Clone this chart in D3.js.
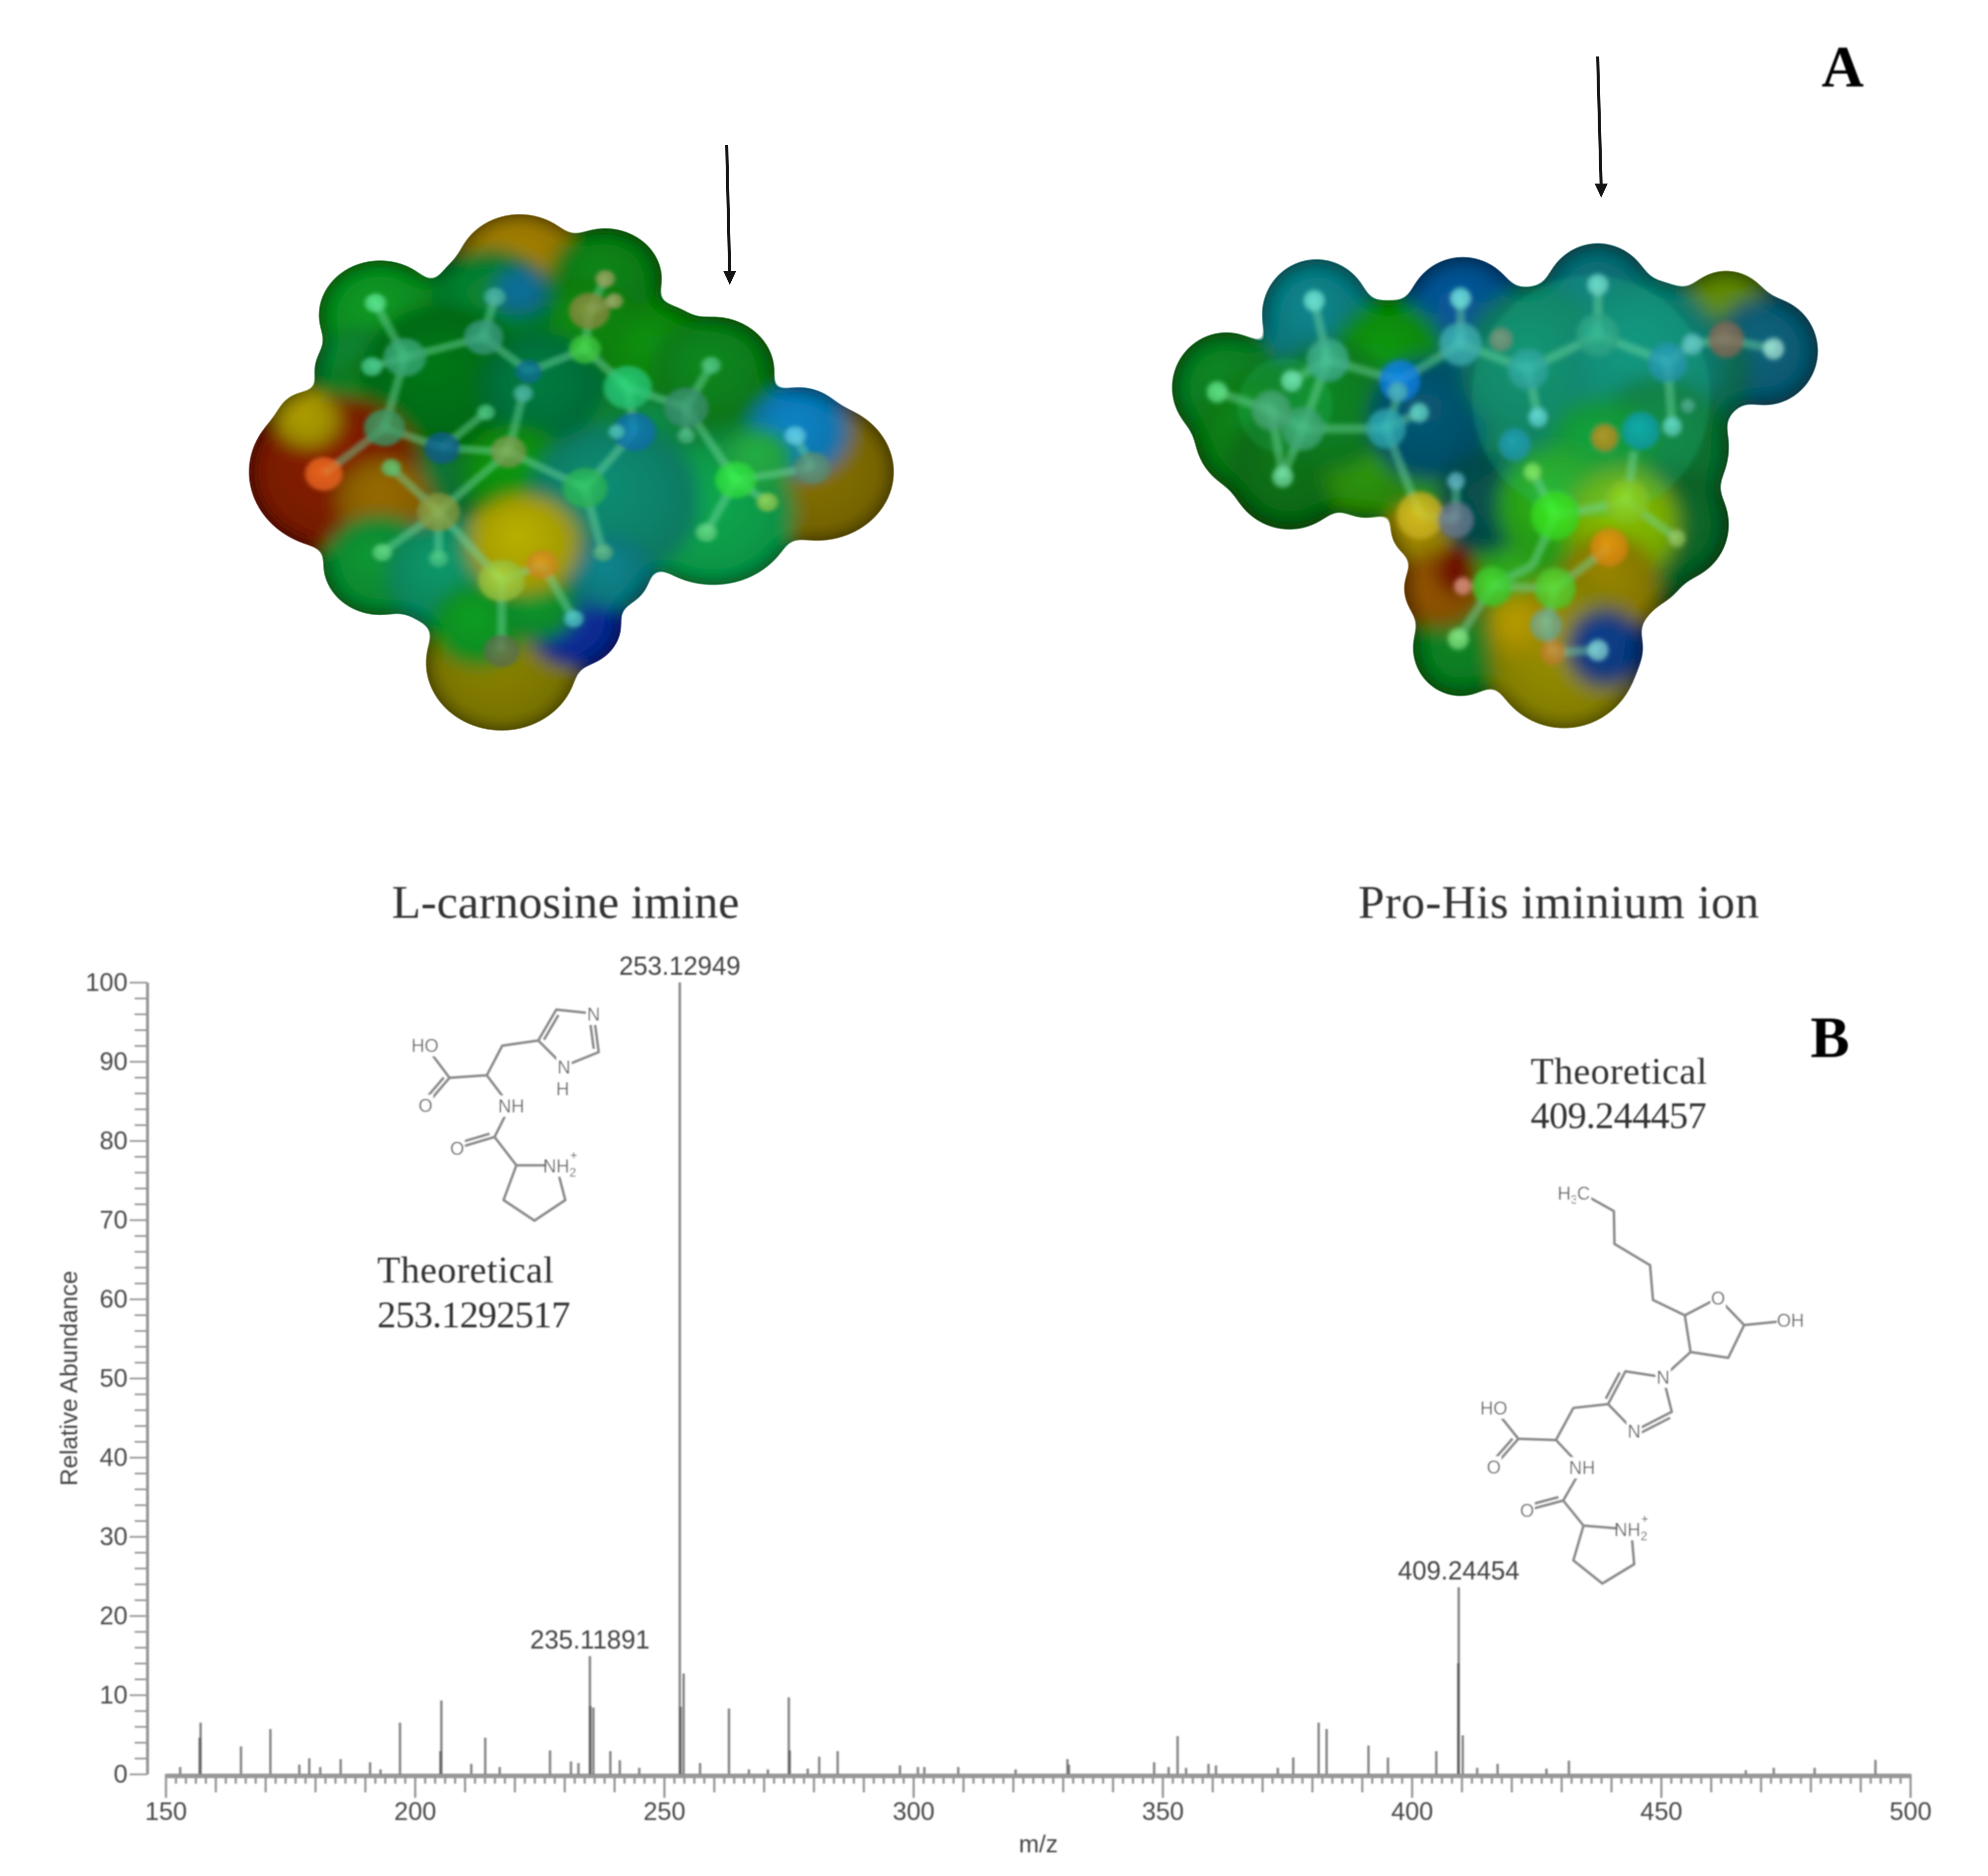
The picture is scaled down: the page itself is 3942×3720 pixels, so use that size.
<!DOCTYPE html>
<html lang="en">
<head>
  <meta charset="UTF-8" />
  <title>L-carnosine imine and Pro-His iminium ion</title>
  <script src="https://d3js.org/d3.v7.min.js"></script>
  <style>
    body { margin: 0; padding: 0; background: #fff; }
    svg { display: block; }
    text { font-family: 'Liberation Sans', Arial, sans-serif; fill: #444; }
    .serif { font-family: 'Liberation Serif', 'Times New Roman', serif; fill: #333; }
    .panel { font-family: 'Liberation Serif', 'Times New Roman', serif; font-weight: bold; fill: #000; }
    .axis path, .axis line { stroke: #989898; fill: none; }
    .axis text { font-size: 50px; fill: #484848; }
    .bond { stroke: #8a8a8a; stroke-width: 5; fill: none; stroke-linejoin: round; }
    .atomlabel { font-size: 36px; fill: #666; text-anchor: middle; }
  </style>
</head>
<body>
  <div id="chart"></div>

  <script>
    // spectrum
    const stickMz = [152.9, 156.8, 157, 165.1, 171, 176.8, 178.8, 181, 185.1, 191, 193.1, 197, 205.1, 205.3,
      211.3, 214.1, 217, 227.1, 231.3, 232.8, 235.1, 235.2, 235.8, 239.2, 241.1, 245, 253.13, 253.3, 253.9, 257.2,
      263, 267, 270.8, 275, 275.2, 278.8, 281.1, 284.8, 297.3, 300.9, 302.2, 309, 320.5, 330.9, 331.2,
      348.3, 351.2, 353, 354.7, 359.2, 360.7, 373.1, 376.2, 381.3, 382.9, 391.3, 395.2, 404.9,
      409.3, 409.4, 410.2, 413.1, 417.2, 427, 431.5, 467, 472.6, 480.8, 493];
    const stickAbundance = [0.9, 4.6, 6.5, 3.5, 5.7, 1.2, 2.0, 0.9, 1.9, 1.5, 0.6, 6.5, 2.9, 9.3,
      1.3, 4.6, 0.9, 3.0, 1.6, 1.4, 14.9, 8.6, 8.4, 2.9, 1.75, 0.8, 100, 8.5, 12.7, 1.4,
      8.3, 0.6, 0.6, 9.7, 3.0, 0.7, 2.2, 2.9, 1.1, 0.9, 0.9, 0.9, 0.6, 1.9, 1.2,
      1.5, 0.9, 4.8, 0.8, 1.3, 1.1, 0.8, 2.1, 6.5, 5.7, 3.6, 2.1, 2.9,
      14.0, 23.6, 4.9, 0.8, 1.3, 0.7, 1.7, 0.5, 0.8, 0.8, 1.8];
    const labelledMz = [235.1, 253.13, 409.4];
    const labelledAbundance = [14.9, 100, 23.6];
    const labelledText = ["235.11891", "253.12949", "409.24454"];

    const xTicks = d3.range(150, 501, 2);
    const yTicks = d3.range(0, 101, 2);

    const width = 3942, height = 3720;
    const svg = d3.select("#chart").append("svg")
      .attr("width", width)
      .attr("height", height);
    svg.append("rect").attr("width", width).attr("height", height).attr("fill", "#fff");

    const defs = svg.append("defs");

    // surface: blobs melt together, edge of the silhouette gets shaded
    const goo = defs.append("filter").attr("id", "goo")
      .attr("x", "-15%").attr("y", "-15%").attr("width", "130%").attr("height", "130%");
    goo.append("feGaussianBlur").attr("in", "SourceGraphic").attr("stdDeviation", 20).attr("result", "b");
    goo.append("feComponentTransfer").attr("in", "b").attr("result", "shape")
      .append("feFuncA").attr("type", "linear").attr("slope", 14).attr("intercept", -6);
    goo.append("feGaussianBlur").attr("in", "shape").attr("stdDeviation", 26).attr("result", "ga");
    goo.append("feColorMatrix").attr("in", "ga").attr("type", "matrix")
      .attr("values", "0 0 0 0 0  0 0 0 0 0  0 0 0 0 0  0 0 0 -1.2 1.12").attr("result", "inv");
    goo.append("feComposite").attr("in", "inv").attr("in2", "shape").attr("operator", "in").attr("result", "edge");
    const gooMerge = goo.append("feMerge");
    gooMerge.append("feMergeNode").attr("in", "shape");
    gooMerge.append("feMergeNode").attr("in", "edge");

    const blurSmall = defs.append("filter").attr("id", "softer")
      .attr("x", "-10%").attr("y", "-10%").attr("width", "120%").attr("height", "120%");
    blurSmall.append("feGaussianBlur").attr("stdDeviation", 5);
    const blurText = defs.append("filter").attr("id", "textblur")
      .attr("x", "-5%").attr("y", "-5%").attr("width", "110%").attr("height", "110%");
    blurText.append("feGaussianBlur").attr("stdDeviation", 1.4);

    // spectrum axes
    const x = d3.scaleLinear().domain([150, 500]).range([328.6, 3788]);
    const y = d3.scaleLinear().domain([0, 100]).range([3518, 1948]);

    const spectrum = svg.append("g").attr("filter", "url(#textblur)");

    const xAxis = spectrum.append("g").attr("class", "axis")
      .attr("transform", `translate(0,${y(0)})`)
      .call(d3.axisBottom(x).tickValues(xTicks).tickSizeOuter(0)
        .tickFormat(d => d % 50 === 0 ? d : ""));
    xAxis.select("path").attr("stroke-width", 9).attr("stroke", "#a4a4a4").attr("transform", "translate(0,3)");
    xAxis.selectAll(".tick line")
      .attr("stroke-width", 4.5)
      .attr("stroke", d => d % 10 === 0 ? "#969696" : "#a8a8a8")
      .attr("y2", d => d % 50 === 0 ? 47 : d % 10 === 0 ? 36 : 19);
    xAxis.selectAll(".tick text").attr("y", 55).attr("dy", "0.71em");

    const yAxis = spectrum.append("g").attr("class", "axis")
      .attr("transform", `translate(292,0)`)
      .call(d3.axisLeft(y).tickValues(yTicks).tickSizeOuter(0)
        .tickFormat(d => d % 10 === 0 ? d : ""));
    yAxis.select("path").attr("stroke-width", 6);
    yAxis.selectAll(".tick line")
      .attr("stroke-width", 3.5)
      .attr("x2", d => d % 10 === 0 ? -35 : -25);
    yAxis.selectAll(".tick text").attr("x", -39);

    spectrum.append("text")
      .attr("x", 2059).attr("y", 3673)
      .attr("text-anchor", "middle")
      .attr("font-size", 48)
      .text("m/z");
    spectrum.append("text")
      .attr("transform", "translate(153,2733) rotate(-90)")
      .attr("text-anchor", "middle")
      .attr("font-size", 48)
      .text("Relative Abundance");

    // sticks overlap and go darker, as in the spectrum
    spectrum.append("g").selectAll("line")
      .data(stickMz)
      .enter().append("line")
      .attr("x1", d => x(d)).attr("x2", d => x(d))
      .attr("y1", y(0))
      .attr("y2", (d, i) => y(stickAbundance[i]))
      .attr("stroke", "#444")
      .attr("stroke-opacity", 0.62)
      .attr("stroke-width", 5);

    spectrum.append("g").selectAll("text")
      .data(labelledText)
      .enter().append("text")
      .attr("x", (d, i) => x(labelledMz[i]))
      .attr("y", (d, i) => y(labelledAbundance[i]) - 15)
      .attr("text-anchor", "middle")
      .attr("font-size", 51)
      .text(d => d);

    // titles and panel letters
    const titles = svg.append("g").attr("filter", "url(#textblur)");
    titles.append("text").attr("class", "serif")
      .attr("x", 777).attr("y", 1820).attr("font-size", 94)
      .attr("textLength", 689).text("L-carnosine imine");
    titles.append("text").attr("class", "serif")
      .attr("x", 2693).attr("y", 1820).attr("font-size", 94)
      .attr("textLength", 795).text("Pro-His iminium ion");
    titles.append("text").attr("class", "panel")
      .attr("x", 3612).attr("y", 171).attr("font-size", 116).text("A");
    titles.append("text").attr("class", "panel")
      .attr("x", 3590).attr("y", 2096).attr("font-size", 116).text("B");

    [[748, 2543, "Theoretical"], [748, 2632, "253.1292517"],
     [3035, 2149, "Theoretical"], [3035, 2237, "409.244457"]].forEach(t => {
      titles.append("text").attr("class", "serif")
        .attr("x", t[0]).attr("y", t[1]).attr("font-size", 75)
        .attr("textLength", t[2] === "Theoretical" ? 350 : t[2].length > 10 ? 383 : 349)
        .text(t[2]);
    });

    // arrows over the molecules
    function arrow(x1, y1, x2, y2) {
      svg.append("line")
        .attr("x1", x1).attr("y1", y1).attr("x2", x2).attr("y2", y2 - 20)
        .attr("stroke", "#141414").attr("stroke-width", 6);
      svg.append("path")
        .attr("d", d3.line()([[x2 - 13, y2 - 28], [x2 + 13, y2 - 28], [x2, y2]]))
        .attr("fill", "#141414");
    }
    arrow(1441, 288, 1447, 565);
    arrow(3168, 112, 3175, 392);

    // 2D structures, drawn in their own pixel frames
    function structure(ox, oy, sx, sy, chains, doubles, labels) {
      const g = svg.append("g").attr("filter", "url(#textblur)");
      const px = d => ox + d[0] / sx, py = d => oy + d[1] / sy;
      const line = d3.line().x(px).y(py);
      chains.forEach(c => g.append("path").attr("class", "bond").attr("d", line(c)));
      doubles.forEach(c => {
        const dx = px(c[1]) - px(c[0]), dy = py(c[1]) - py(c[0]);
        const len = Math.hypot(dx, dy), nx = -dy / len * 9, ny = dx / len * 9;
        g.append("line").attr("class", "bond")
          .attr("x1", px(c[0]) + nx + dx * 0.1).attr("y1", py(c[0]) + ny + dy * 0.1)
          .attr("x2", px(c[1]) + nx - dx * 0.1).attr("y2", py(c[1]) + ny - dy * 0.1);
      });
      labels.forEach(l => {
        const p = [l[0], l[1]];
        // white knockout so the bond ends stop short of the label
        const w = l[2].length * 24 + 6;
        g.append("rect").attr("x", px(p) - w / 2).attr("y", py(p) - 21)
          .attr("width", w).attr("height", 42).attr("fill", "#fff");
        const t = g.append("text").attr("class", "atomlabel")
          .attr("x", px(p)).attr("y", py(p) + 13);
        t.text(l[2]);
        if (l[3]) {
          t.append("tspan").attr("font-size", 24).attr("dy", 8).text(l[3]);
        }
        if (l[4]) {
          t.append("tspan").attr("font-size", 24).attr("dy", -34).attr("dx", -12).text(l[4]);
        }
      });
    }

    structure(700, 1900, 1.96, 1.96,
      [[[285, 345], [375, 465], [520, 455], [580, 340], [720, 320], [790, 200], [935, 215], [955, 365], [820, 420], [720, 320]],
       [[375, 465], [285, 570]],
       [[520, 455], [610, 575], [550, 695], [405, 738]],
       [[550, 695], [635, 805], [790, 805], [825, 940], [705, 1020], [585, 940], [635, 805]]],
      [[[375, 465], [285, 570]], [[550, 695], [405, 738]], [[720, 320], [790, 200]], [[935, 215], [955, 365]]],
      [[280, 340, "HO"], [282, 572, "O"], [615, 575, "NH"], [405, 738, "O"], [935, 218, "N"],
       [820, 424, "N"], [815, 508, "H"], [805, 808, "NH", "2", "+"]]);

    structure(2850, 2000, 1.742, 1.307,
      [[[515, 485], [610, 525], [612, 610], [735, 665], [745, 755], [855, 795], [970, 750], [1060, 820], [1005, 905], [875, 890], [855, 795]],
       [[1060, 820], [1220, 808]],
       [[875, 890], [780, 955], [650, 940], [590, 1025], [680, 1095], [810, 1045], [780, 955]],
       [[590, 1025], [470, 1035], [410, 1118], [280, 1115], [195, 1035]],
       [[280, 1115], [195, 1188]],
       [[410, 1118], [500, 1190], [435, 1275], [310, 1300]],
       [[435, 1275], [505, 1340], [670, 1350], [680, 1440], [570, 1490], [470, 1430], [505, 1340]]],
      [[[280, 1115], [195, 1188]], [[435, 1275], [310, 1300]], [[650, 940], [590, 1025]], [[680, 1095], [810, 1045]]],
      [[450, 478, "H", "3"], [505, 478, "C"], [970, 750, "O"], [1220, 808, "OH"], [780, 955, "N"], [680, 1095, "N"],
       [195, 1035, "HO"], [195, 1188, "O"], [500, 1190, "NH"], [310, 1300, "O"], [670, 1350, "NH", "2", "+"]]);

    // electrostatic potential surfaces: x, y, r, colour (frames are the crops used for reading)
    const surfaceOne = [
      [470, 880, 110, "#0a6c30"], [950, 740, 130, "#0a8040"], [800, 770, 120, "#0a8030"], [1120, 750, 100, "#0a7a30"],
      [650, 360, 140, "#9a7800"], [840, 380, 125, "#0b7a14"], [800, 500, 120, "#0c8010"], [950, 560, 120, "#0a8410"], [1080, 610, 135, "#0a7c1a"],
      [340, 470, 135, "#0e8c20"], [300, 610, 105, "#0a8030"], [320, 680, 110, "#0a7a20"], [590, 440, 135, "#067a2c"],
      [650, 410, 60, "#0a6a90"], [480, 630, 185, "#006c12"], [700, 650, 135, "#00703a"], [640, 860, 120, "#0a8a10"],
      [240, 860, 190, "#7a1c00"], [180, 730, 70, "#a09000"], [350, 930, 105, "#8a6000"],
      [1310, 860, 170, "#7a6800"], [1080, 960, 180, "#0c9a48"], [860, 930, 190, "#0a8068"], [1270, 760, 110, "#1078b4"],
      [1180, 830, 80, "#20a040"],
      [340, 1090, 125, "#0a8a30"], [490, 1110, 135, "#0a8a60"], [610, 1335, 167, "#7e7800"], [770, 1240, 105, "#082a90"],
      [850, 1110, 90, "#0a7a80"], [560, 1240, 105, "#109020"], [690, 1190, 90, "#0a8a2a"], [660, 1040, 125, "#a8a000"]
    ];
    const atomsOne = [
      [330, 440, 24, "#5ce090"], [395, 575, 48, "#3aa878"], [322, 598, 24, "#4cc890"], [570, 525, 44, "#3a9c80"],
      [595, 425, 24, "#4cb0a0"], [670, 610, 30, "#0a6c90"], [658, 665, 22, "#4cb0a0"], [625, 810, 40, "#7a9c50"],
      [478, 800, 40, "#0a5c90"], [575, 712, 20, "#4cc080"], [350, 750, 46, "#3a9c68"], [215, 865, 42, "#f06a20"],
      [365, 850, 22, "#5cc070"], [470, 960, 48, "#8a9c40"], [345, 1060, 22, "#60d080"], [470, 1075, 22, "#48c080"],
      [610, 1130, 52, "#9cc840"], [700, 1090, 36, "#d08a20"], [770, 1225, 22, "#50c0c0"], [610, 1305, 40, "#607050"],
      [795, 900, 50, "#2cb858"], [835, 1060, 22, "#60b080"], [905, 760, 48, "#0a70b0"], [865, 760, 18, "#50c0b0"],
      [890, 650, 54, "#28c878"], [1020, 700, 50, "#3a9070"], [1075, 595, 22, "#50c080"], [1020, 770, 20, "#4cb080"],
      [795, 555, 36, "#40c840"], [805, 460, 46, "#8a8a40"], [840, 380, 22, "#9aa060"], [860, 435, 20, "#9aa060"],
      [1130, 880, 46, "#30e040"], [1065, 1010, 24, "#60d080"], [1200, 935, 24, "#90c850"], [1300, 850, 40, "#5a9070"],
      [1262, 770, 24, "#60c8e0"]
    ];
    const bondsOne = [
      [330, 440, 395, 575], [322, 598, 395, 575], [395, 575, 570, 525], [570, 525, 595, 425], [570, 525, 670, 610],
      [670, 610, 795, 555], [395, 575, 350, 750], [350, 750, 215, 865], [350, 750, 478, 800], [478, 800, 575, 712],
      [478, 800, 625, 810], [658, 665, 625, 810], [625, 810, 470, 960], [365, 850, 470, 960], [470, 960, 345, 1060],
      [470, 960, 610, 1130], [470, 1075, 470, 960], [610, 1130, 700, 1090], [700, 1090, 770, 1225], [610, 1130, 610, 1305],
      [625, 810, 795, 900], [795, 900, 835, 1060], [795, 900, 905, 760], [905, 760, 890, 650], [890, 650, 1020, 700],
      [1020, 700, 1075, 595], [1020, 700, 1020, 770], [1020, 700, 1130, 880], [795, 555, 890, 650], [795, 555, 805, 460],
      [805, 460, 840, 380], [805, 460, 860, 435], [1130, 880, 1065, 1010], [1130, 880, 1200, 935], [1130, 880, 1300, 850],
      [1300, 850, 1262, 770]
    ];

    const surfaceTwo = [
      [810, 890, 120, "#0a6a40"], [820, 1160, 100, "#2a9a18"], [600, 1070, 65, "#9a8400"], [610, 970, 62, "#2a8a10"],
      [1280, 610, 105, "#5c8400"], [1365, 680, 118, "#0a5a72"], [1210, 720, 125, "#0a6a50"],
      [170, 760, 120, "#0a7c22"], [230, 860, 130, "#0a7a18"], [310, 935, 135, "#0a6a14"], [480, 950, 95, "#2a8a10"],
      [370, 600, 120, "#0a7a80"], [695, 600, 125, "#06508c"], [995, 565, 120, "#0a6a72"], [530, 700, 130, "#0a8a10"],
      [400, 800, 140, "#0a7a20"], [620, 830, 135, "#06506a"], [860, 710, 170, "#0a7a60"], [1100, 700, 175, "#0a7e70"],
      [1130, 890, 155, "#0a7030"], [1000, 900, 120, "#0a8a20"], [1160, 1060, 125, "#0a6428"], [1100, 1150, 90, "#0a6428"],
      [750, 1010, 110, "#064a48"], [690, 1330, 105, "#0a7a20"], [650, 1200, 85, "#8a5000"], [680, 1165, 48, "#6a0a00"],
      [900, 1020, 130, "#28a018"], [1050, 1060, 125, "#7ab000"], [1020, 1190, 110, "#8a7a00"],
      [920, 1340, 165, "#8a8400"], [1010, 1330, 85, "#0a3a80"], [820, 1280, 70, "#a89000"]
    ];
    // the see-through spheres in front of the second surface
    const overlayTwo = [[980, 780, 265, "#20c890", 0.22], [300, 800, 105, "#30d880", 0.18]];
    const atomsTwo = [
      [365, 570, 24, "#70e0d0"], [395, 700, 48, "#40b090"], [315, 745, 24, "#70e0b0"], [555, 745, 46, "#1080e8"],
      [550, 770, 22, "#50b0b0"], [525, 850, 44, "#30a8b0"], [598, 815, 22, "#60d0c0"], [340, 850, 48, "#40a878"],
      [270, 810, 44, "#48a878"], [150, 770, 24, "#60e088"], [295, 955, 24, "#70d8a0"], [690, 665, 48, "#40b0b0"],
      [690, 565, 24, "#70e0d8"], [780, 655, 26, "#7a9078"], [840, 720, 46, "#30a8a0"], [862, 825, 22, "#60d0d0"],
      [810, 885, 36, "#2098b0"], [995, 645, 48, "#30a888"], [995, 535, 24, "#70d8c8"], [1150, 705, 44, "#2898b0"],
      [1205, 665, 24, "#60c0c0"], [1280, 655, 40, "#8a6a58"], [1385, 675, 24, "#a0e0d0"], [1090, 855, 42, "#10a0b0"],
      [1160, 845, 22, "#60d0c0"], [1195, 800, 16, "#50a890"], [1010, 870, 30, "#c08a20"], [900, 1040, 54, "#38e020"],
      [850, 945, 20, "#80e060"], [1060, 1010, 48, "#88c820"], [1020, 1110, 42, "#e08a10"], [1170, 1090, 20, "#90c060"],
      [760, 1195, 44, "#40d030"], [900, 1200, 46, "#50d030"], [685, 1310, 24, "#80e080"], [880, 1280, 36, "#70a890"],
      [895, 1340, 28, "#c08030"], [995, 1335, 24, "#80d0d0"], [600, 1040, 52, "#d0b820"], [680, 1050, 40, "#6a7a90"],
      [680, 965, 20, "#60b0c0"], [695, 1195, 20, "#d89080"]
    ];
    const bondsTwo = [
      [365, 570, 395, 700], [315, 745, 395, 700], [395, 700, 555, 745], [395, 700, 340, 850], [340, 850, 270, 810],
      [270, 810, 150, 770], [340, 850, 295, 955], [270, 810, 295, 955], [340, 850, 525, 850], [525, 850, 555, 770],
      [525, 850, 598, 815], [555, 745, 690, 665], [690, 665, 690, 565], [690, 665, 840, 720], [840, 720, 862, 825],
      [840, 720, 995, 645], [995, 645, 995, 535], [995, 645, 1150, 705], [1150, 705, 1205, 665], [1205, 665, 1280, 655],
      [1280, 655, 1385, 675], [1150, 705, 1160, 845], [525, 850, 600, 1040], [600, 1040, 680, 1050], [680, 1050, 680, 965],
      [850, 945, 900, 1040], [900, 1040, 1060, 1010], [1075, 900, 1060, 1010], [1060, 1010, 1170, 1090],
      [900, 1040, 850, 1150], [850, 1150, 760, 1195], [760, 1195, 900, 1200], [1020, 1110, 900, 1200],
      [760, 1195, 685, 1310], [900, 1200, 880, 1280], [880, 1280, 895, 1340], [895, 1340, 995, 1335]
    ];

    let gradId = 0;
    function ball(colour, dark) {
      const id = "ball" + (gradId++);
      const c = d3.color(colour);
      const g = defs.append("radialGradient").attr("id", id)
        .attr("cx", "50%").attr("cy", "50%").attr("r", "52%").attr("fx", "42%").attr("fy", "38%");
      g.append("stop").attr("offset", "0%").attr("stop-color", c.brighter(0.3));
      g.append("stop").attr("offset", "65%").attr("stop-color", c);
      g.append("stop").attr("offset", "100%").attr("stop-color", c.darker(dark));
      return `url(#${id})`;
    }

    function molecule(ox, oy, sx, sy, blobs, overlay, atoms, bonds) {
      const frame = svg.append("g")
        .attr("transform", `translate(${ox},${oy}) scale(${1 / sx},${1 / sy})`);
      frame.append("g").attr("filter", "url(#goo)")
        .selectAll("circle").data(blobs).enter().append("circle")
        .attr("cx", d => d[0]).attr("cy", d => d[1]).attr("r", d => d[2])
        .attr("fill", d => ball(d[3], 0.3));
      const sticks = frame.append("g").attr("filter", "url(#softer)");
      sticks.append("g").selectAll("circle").data(overlay).enter().append("circle")
        .attr("cx", d => d[0]).attr("cy", d => d[1]).attr("r", d => d[2])
        .attr("fill", d => d[3]).attr("fill-opacity", d => d[4]);
      sticks.selectAll("line").data(bonds).enter().append("line")
        .attr("x1", d => d[0]).attr("y1", d => d[1]).attr("x2", d => d[2]).attr("y2", d => d[3])
        .attr("stroke", "#70d8a0").attr("stroke-opacity", 0.45).attr("stroke-width", 20);
      sticks.append("g").selectAll("circle").data(atoms).enter().append("circle")
        .attr("cx", d => d[0]).attr("cy", d => d[1]).attr("r", d => d[2])
        .attr("fill", d => ball(d[3], 0.2)).attr("fill-opacity", 0.78);
    }

    molecule(450, 250, 1.12, 1.254, surfaceOne, [], atomsOne, bondsOne);
    molecule(2280, 80, 1.12, 1.104, surfaceTwo, overlayTwo, atomsTwo, bondsTwo);
  </script>
</body>
</html>
